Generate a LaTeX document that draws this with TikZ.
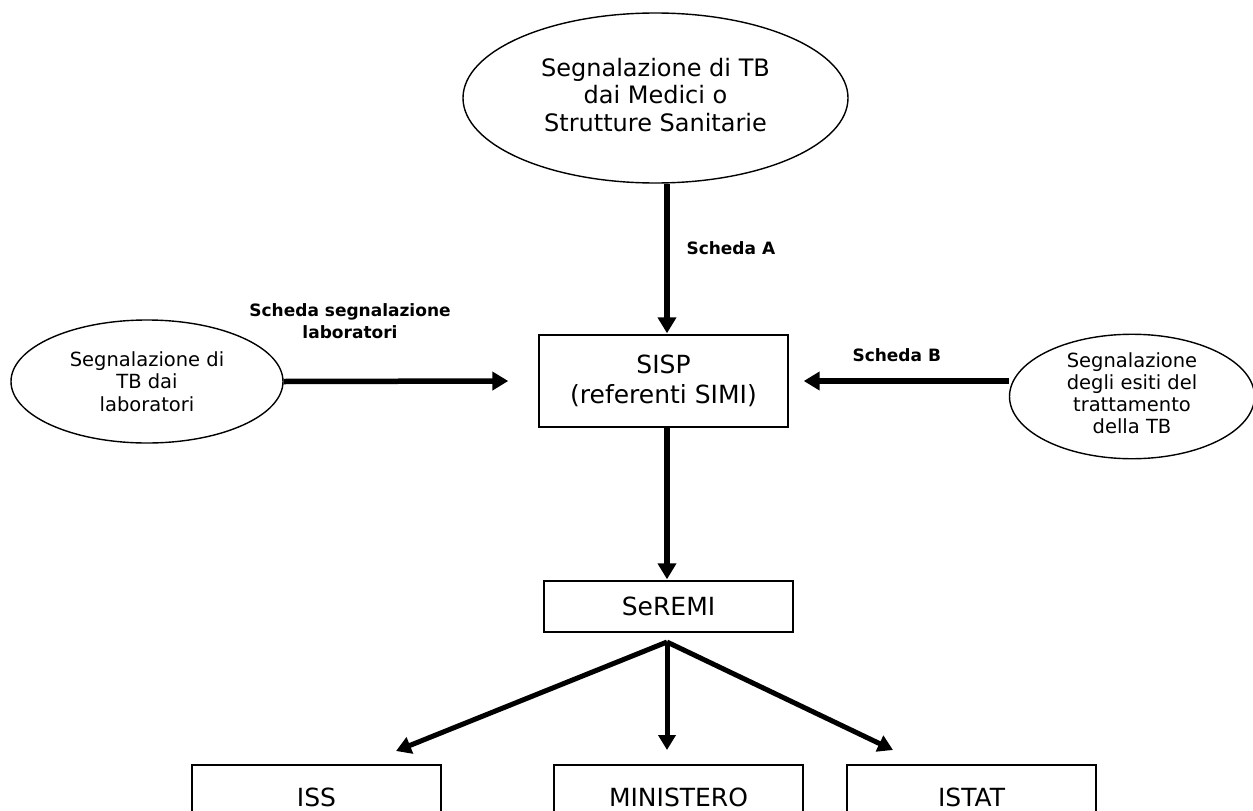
\documentclass[tikz,border=0pt]{standalone}
\usepackage{fontspec}
\setmainfont{DejaVu Sans}
\usetikzlibrary{arrows.meta,shapes.geometric}
\newcommand{\liftup}[2]{\raisebox{#1}{\begin{tabular}{@{}c@{}}#2\end{tabular}}}
\tikzset{
  ell/.style={draw,ellipse,line width=1.4pt,inner sep=0pt,align=center},
  boxn/.style={draw,rectangle,line width=1.4pt,inner sep=0pt,align=center,font=\fontsize{25}{30}\selectfont},
  lbl/.style={font=\fontsize{17}{22}\selectfont\bfseries,align=center},
  flow/.style={line width=5.5pt,-{Triangle[width=18pt,length=16pt]}},
  fan/.style={line width=5pt,-{Triangle[width=17pt,length=15pt]}}
}
\begin{document}
\begin{tikzpicture}[x=1pt,y=-1pt]
\useasboundingbox (0,0) rectangle (1253,811);
\clip (0,0) rectangle (1253,811);
\fill[white] (0,0) rectangle (1253,811);
\node[ell,font=\fontsize{24}{27.5}\selectfont,minimum width=385pt,minimum height=170pt] (top) at (655.5,98) {\liftup{6pt}{Segnalazione di TB\\dai Medici o\\Strutture Sanitarie}};
\node[ell,font=\fontsize{19.5}{22.5}\selectfont,minimum width=272pt,minimum height=123pt] (lab) at (147,381.5) {Segnalazione di\\TB dai\\laboratori};
\node[ell,font=\fontsize{19.5}{22}\selectfont,minimum width=245pt,minimum height=123pt] (esiti) at (1132,396.5) {\liftup{6pt}{Segnalazione\\degli esiti del\\trattamento\\della TB}};
\node[boxn,minimum width=249pt,minimum height=92pt] (sisp) at (663.5,381) {SISP\\(referenti SIMI)};
\node[boxn,minimum width=249pt,minimum height=51pt] (seremi) at (668.5,606.5) {SeREMI};
\node[boxn,minimum width=249pt,minimum height=64pt] (iss) at (316.5,797) {ISS};
\node[boxn,minimum width=249pt,minimum height=64pt] (min) at (678.5,797) {MINISTERO};
\node[boxn,minimum width=249pt,minimum height=64pt] (istat) at (971.5,797) {ISTAT};

\node[lbl,anchor=west] (la) at (683,248) {Scheda A};
\node[lbl] (ls) at (350,321) {Scheda segnalazione\\laboratori};
\node[lbl,anchor=west] (lb) at (849,355) {Scheda B};

\coordinate (split) at (667,642);
\coordinate (tIss) at (396,751);
\coordinate (tMin) at (667,750);
\coordinate (tIstat) at (893,750);

\draw[flow] ([xshift=11.5pt]top.south) -- ([xshift=3.5pt,yshift=1pt]sisp.north);
\draw[flow] (lab.east) -- ([xshift=-30pt]sisp.west);
\draw[flow] ([yshift=15.5pt]esiti.west) -- ([xshift=15pt]sisp.east);
\draw[flow] ([xshift=3.5pt]sisp.south) -- ([xshift=-1.5pt,yshift=1pt]seremi.north);
\draw[fan] (split) -- (tIss);
\draw[fan] (split) -- (tMin);
\draw[fan] (split) -- (tIstat);
\end{tikzpicture}
\end{document}
